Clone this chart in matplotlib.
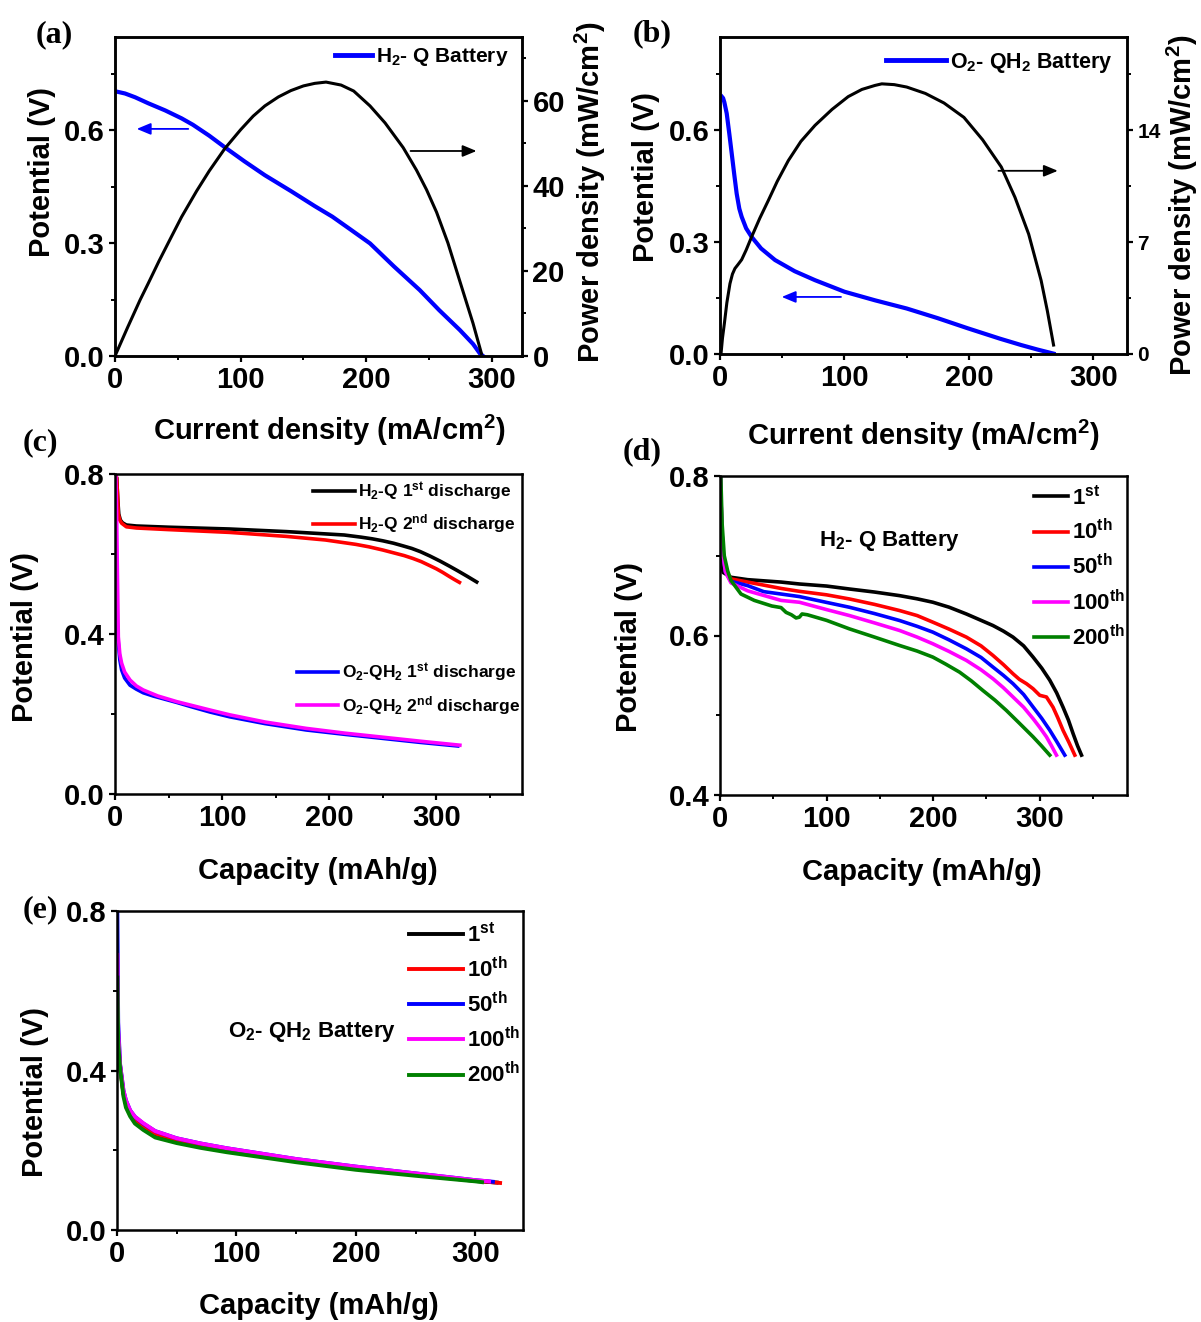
import matplotlib
matplotlib.use("Agg")
import matplotlib.pyplot as plt
from matplotlib.ticker import MultipleLocator, FixedLocator, FormatStrFormatter
from matplotlib.lines import Line2D

plt.rcParams['font.family'] = ['Liberation Sans Narrow', 'Liberation Sans', 'DejaVu Sans']
plt.rcParams['font.weight'] = 'bold'
plt.rcParams['mathtext.default'] = 'regular'
plt.rcParams['axes.linewidth'] = 1.8

# ---------------- data ----------------
# (a) H2-Q battery polarization
a_v_j = [0, 8, 16, 26.5, 40, 53, 62, 75, 87.5, 103, 119.3, 140, 159, 173, 187, 203, 222, 242.6, 258,
         274.5, 285, 290.4, 293]
a_v = [0.703, 0.697, 0.687, 0.671, 0.652, 0.631, 0.614, 0.585, 0.554, 0.517, 0.48, 0.438, 0.398, 0.37,
       0.337, 0.299, 0.238, 0.175, 0.122, 0.069, 0.032, 0.007, 0.0]
a_p_j = [0, 10, 20, 26.5, 35, 45, 53, 65, 75, 87.5, 100, 110, 119.3, 130, 140, 150, 159, 168, 180, 190,
         203, 215, 229.4, 240, 248, 256, 265, 274.5, 280, 285, 291.7]
a_p = [0, 6.7, 13.2, 17.1, 22.3, 28.1, 32.7, 38.8, 43.5, 48.8, 53.2, 56.4, 58.8, 60.9, 62.4, 63.5, 64.1,
       64.4, 63.7, 62.3, 58.8, 54.8, 49.0, 43.7, 39.1, 33.8, 26.6, 17.6, 12.4, 7.7, 0.6]

# (b) O2-QH2 battery polarization
b_v_j = [1.5, 2.5, 3.5, 5.4, 7.5, 9.4, 11.5, 13.4, 15.5, 17.4, 21, 25.4, 33, 44.2, 60, 76.3, 100, 124.5,
         150, 175, 199, 225, 242, 255, 268]
b_v = [0.69, 0.686, 0.675, 0.645, 0.59, 0.538, 0.48, 0.43, 0.39, 0.368, 0.337, 0.314, 0.283, 0.252, 0.222,
       0.198, 0.167, 0.144, 0.122, 0.096, 0.069, 0.041, 0.024, 0.012, 0.001]
b_p_j = [0.8, 2, 3.5, 5.5, 8, 10, 12, 14.5, 17.4, 21, 25.4, 32, 38.8, 46, 54.9, 65, 76.3, 90, 103, 114,
         124.5, 130, 140, 150, 165, 180, 196, 211, 226, 237, 248, 258, 263, 268]
b_p = [0, 1.0, 1.9, 3.2, 4.4, 5.0, 5.35, 5.6, 5.9, 6.5, 7.33, 8.5, 9.6, 10.8, 12.1, 13.3, 14.3, 15.3,
       16.1, 16.55, 16.8, 16.9, 16.85, 16.7, 16.3, 15.7, 14.8, 13.4, 11.7, 9.8, 7.5, 4.6, 2.7, 0.56]

# (c) first / second discharge
c_h1_x = [0.3, 1.6, 2.5, 3.5, 5, 7, 10.6, 20, 50, 107, 160, 214, 230, 240, 250, 260, 268, 277, 285, 294,
          303.7, 312, 320, 329, 337.7]
c_h1_v = [0.8, 0.79, 0.74, 0.70, 0.685, 0.678, 0.6725, 0.670, 0.667, 0.6625, 0.656, 0.6475, 0.642, 0.638,
          0.633, 0.627, 0.621, 0.614, 0.606, 0.595, 0.582, 0.570, 0.558, 0.544, 0.530]
c_h2_x = [0.3, 1.6, 2.5, 3.1, 4.5, 6.2, 10.6, 20, 50, 107, 160, 196.5, 225, 237, 250, 260, 270, 278, 285.9,
          293, 300, 306, 312, 317, 321.6]
c_h2_v = [0.8, 0.79, 0.74, 0.70, 0.685, 0.677, 0.668, 0.665, 0.661, 0.654, 0.644, 0.635, 0.624, 0.618,
          0.61, 0.603, 0.596, 0.589, 0.581, 0.572, 0.563, 0.554, 0.544, 0.536, 0.529]
c_o1_x = [0.5, 1.6, 3.1, 4.5, 6.2, 9, 14, 20, 26.4, 35.6, 57.5, 71.4, 88.6, 107, 140, 178.6, 215, 250,
          285, 320]
c_o1_v = [0.47, 0.45, 0.377, 0.335, 0.31, 0.29, 0.272, 0.262, 0.253, 0.245, 0.229, 0.218, 0.205, 0.193,
          0.176, 0.16, 0.149, 0.139, 0.129, 0.12]
c_o2_x = [0.8, 1.5, 2.2, 3.1, 4.5, 6.2, 9, 14, 20, 26.4, 40, 57.5, 88.6, 107, 140, 178.6, 215, 250, 285,
          322]
c_o2_v = [0.8, 0.70, 0.56, 0.393, 0.35, 0.327, 0.305, 0.285, 0.27, 0.26, 0.245, 0.231, 0.21, 0.198, 0.18,
          0.164, 0.152, 0.142, 0.132, 0.122]

# (d) H2-Q cycling
cycle_labels = ['1$^{st}$', '10$^{th}$', '50$^{th}$', '100$^{th}$', '200$^{th}$']
cycle_colors = ['black', '#ff0000', '#0000ff', '#ff00ff', '#008000']
d1_x = [0.3, 3, 10.3, 26, 57.3, 74.5, 100, 121.5, 145, 168.5, 185, 199.8, 215, 231.2, 245, 256.2, 266,
        275, 285, 293.8, 302, 309.5, 316, 322, 327, 331.4, 335.5, 339.3]
d1_v = [0.695, 0.679, 0.673, 0.670, 0.667, 0.6646, 0.662, 0.6583, 0.6545, 0.650, 0.646, 0.6417, 0.6355,
        0.627, 0.619, 0.6125, 0.6055, 0.598, 0.587, 0.573, 0.559, 0.544, 0.528, 0.510, 0.494, 0.477,
        0.462, 0.45]
d10_x = [0.5, 1.5, 3, 5, 10.3, 26, 57.3, 74.5, 100, 121.5, 145, 168.5, 185, 199.8, 215, 231.2, 245,
         256.2, 266, 275, 281, 287.6, 293.8, 300.1, 306.4, 312.6, 317, 322, 327.5, 333]
d10_v = [0.80, 0.74, 0.70, 0.682, 0.671, 0.667, 0.659, 0.6554, 0.651, 0.6458, 0.639, 0.6313, 0.625,
         0.6167, 0.608, 0.598, 0.587, 0.575, 0.5635, 0.552, 0.545, 0.5396, 0.5333, 0.525, 0.5229, 0.510,
         0.497, 0.481, 0.466, 0.45]
d50_x = [0.5, 1.5, 3, 5, 10.3, 26, 41, 57.3, 74.5, 100, 121.5, 145, 168.5, 185, 199.8, 215, 231.2, 245,
         256.2, 266, 275, 285, 293.8, 302, 309.5, 316.5, 323.6]
d50_v = [0.80, 0.74, 0.70, 0.680, 0.668, 0.6625, 0.655, 0.652, 0.6488, 0.6415, 0.6354, 0.6275, 0.6188,
         0.6115, 0.6042, 0.5945, 0.5833, 0.5725, 0.5604, 0.55, 0.5396, 0.526, 0.5104, 0.496, 0.4813,
         0.466, 0.45]
d100_x = [0.5, 1.5, 3, 5, 10.3, 26, 57.3, 74.5, 100, 121.5, 145, 168.5, 185, 199.8, 215, 231.2, 245,
          256.2, 266, 275, 285, 293.8, 300, 306.4, 311, 315.8]
d100_v = [0.80, 0.74, 0.70, 0.680, 0.666, 0.656, 0.644, 0.6417, 0.6325, 0.625, 0.6158, 0.6063, 0.598,
          0.5896, 0.58, 0.5688, 0.557, 0.5458, 0.5345, 0.5229, 0.51, 0.4958, 0.485, 0.4729, 0.462, 0.45]
d200_x = [0.8, 2, 4, 7.2, 10.3, 19.7, 32.2, 48.6, 57.3, 62, 67, 71.4, 74.5, 77, 82, 100, 121.5, 145,
          168.5, 185, 199.8, 212, 224.9, 236, 246.8, 258, 268.8, 281, 293.8, 301.5, 309.5]
d200_v = [0.798, 0.74, 0.70, 0.681, 0.669, 0.652, 0.644, 0.637, 0.635, 0.629, 0.626, 0.622, 0.623, 0.627,
          0.626, 0.619, 0.6083, 0.598, 0.5875, 0.5805, 0.5729, 0.564, 0.554, 0.543, 0.531, 0.519, 0.506,
          0.49, 0.473, 0.462, 0.45]

# (e) O2-QH2 cycling
e1_x = [0.3, 1, 2.6, 5.4, 7.5, 11, 15, 22, 32, 50, 70, 92, 120, 150, 200, 250, 300, 318]
e1_v = [0.50, 0.46, 0.41, 0.342, 0.316, 0.292, 0.274, 0.26, 0.241, 0.225, 0.212, 0.2, 0.187, 0.174, 0.155,
        0.139, 0.123, 0.119]
e10_x = [0.3, 1, 2.6, 5.4, 7.5, 11, 15, 22, 32, 50, 70, 92, 120, 150, 200, 250, 300, 320.8]
e10_v = [0.55, 0.47, 0.41, 0.343, 0.317, 0.293, 0.275, 0.261, 0.242, 0.226, 0.213, 0.201, 0.188, 0.175,
         0.156, 0.14, 0.124, 0.118]
e50_x = [0.3, 1, 2.6, 5.4, 7.5, 11, 15, 22, 32, 50, 70, 92, 120, 150, 200, 250, 300, 314.8]
e50_v = [0.80, 0.52, 0.415, 0.35, 0.325, 0.3, 0.284, 0.267, 0.248, 0.23, 0.217, 0.205, 0.192, 0.178, 0.159,
         0.142, 0.125, 0.121]
e100_x = [0.3, 1, 2.6, 5.4, 7.5, 11, 15, 22, 32, 50, 70, 92, 120, 150, 200, 250, 300, 311.6]
e100_v = [0.69, 0.50, 0.415, 0.35, 0.325, 0.3, 0.284, 0.268, 0.248, 0.23, 0.217, 0.205, 0.192, 0.178,
          0.159, 0.142, 0.125, 0.122]
e200_x = [0.3, 1, 2.6, 5.4, 7.5, 11, 15, 22, 32, 50, 70, 92, 120, 150, 200, 250, 300, 305.7]
e200_v = [0.633, 0.47, 0.405, 0.335, 0.307, 0.285, 0.267, 0.251, 0.232, 0.218, 0.206, 0.195, 0.183, 0.17,
          0.151, 0.136, 0.122, 0.12]

# ---------------- figure ----------------
W, H = 1201, 1322
fig = plt.figure(figsize=(W / 100, H / 100), dpi=100)


def rect(l, t, r, b):
    return [l / W, 1 - b / H, (r - l) / W, (b - t) / H]


TICK_FS = 21
LABEL_FS = 21


def style(ax, right=False):
    ax.tick_params(which='major', direction='out', length=4.5, width=1.6, labelsize=TICK_FS, pad=3)
    ax.tick_params(which='minor', direction='out', length=3, width=1.4)
    ax.tick_params(top=False, which='both')
    if not right:
        ax.tick_params(right=False, which='both')
    for lab in ax.get_xticklabels() + ax.get_yticklabels():
        lab.set_fontweight('bold')


def xlabel(ax, text, x, y):
    ax.set_xlabel(text, fontsize=LABEL_FS, fontweight='bold')
    ax.xaxis.set_label_coords(x, y)
    ax.xaxis.label.set_va('center')


def ylabel(ax, text, x, y):
    ax.set_ylabel(text, fontsize=LABEL_FS, fontweight='bold')
    ax.yaxis.set_label_coords(x, y)
    ax.yaxis.label.set_va('center')


arrow_kw = dict(arrowstyle='-|>,head_length=0.6,head_width=0.25', mutation_scale=14, lw=1.3,
                shrinkA=0, shrinkB=0)

# ---- (a)
ax = fig.add_axes(rect(115, 37, 522, 356))
ax2 = ax.twinx()
ax.plot(a_v_j, a_v, color='#0000ff', lw=3)
ax2.plot(a_p_j, a_p, color='black', lw=2.2)
ax.set_xlim(0, 324)
ax.set_ylim(0, 0.847)
ax2.set_ylim(0, 75)
ax.xaxis.set_major_locator(FixedLocator([0, 100, 200, 300]))
ax.xaxis.set_minor_locator(MultipleLocator(50))
ax.yaxis.set_major_locator(FixedLocator([0.0, 0.3, 0.6]))
ax.yaxis.set_minor_locator(MultipleLocator(0.15))
ax.yaxis.set_major_formatter(FormatStrFormatter('%.1f'))
ax2.yaxis.set_major_locator(FixedLocator([0, 20, 40, 60]))
ax2.yaxis.set_minor_locator(MultipleLocator(10))
style(ax)
style(ax2, right=True)
ax2.tick_params(left=False, which='both')
xlabel(ax, 'Current density (mA/cm$^2$)', 0.527, -0.232)
ylabel(ax, 'Potential (V)', -0.179, 0.577)
ylabel(ax2, 'Power density (mW/cm$^2$)', 1.167, 0.514)
ax.legend([Line2D([], [], color='#0000ff', lw=3.5)], ['H$_2$- Q Battery'], loc='center right',
          bbox_to_anchor=(0.968, 0.937), frameon=False, fontsize=15, handlelength=1.8,
          handletextpad=0.2, borderpad=0, borderaxespad=0)
ax.annotate('', xy=(17.3, 0.603), xytext=(58.3, 0.603), arrowprops=dict(color='#0000ff', **arrow_kw))
ax2.annotate('', xy=(287.8, 48.2), xytext=(235.3, 48.2), arrowprops=dict(color='black', **arrow_kw))

# ---- (b)
ax = fig.add_axes(rect(720, 37, 1127, 354))
ax2 = ax.twinx()
ax.plot(b_v_j, b_v, color='#0000ff', lw=3)
ax2.plot(b_p_j, b_p, color='black', lw=2.2)
ax.set_xlim(0, 327)
ax.set_ylim(0, 0.85)
ax2.set_ylim(0, 19.83)
ax.xaxis.set_major_locator(FixedLocator([0, 100, 200, 300]))
ax.xaxis.set_minor_locator(MultipleLocator(50))
ax.yaxis.set_major_locator(FixedLocator([0.0, 0.3, 0.6]))
ax.yaxis.set_minor_locator(MultipleLocator(0.15))
ax.yaxis.set_major_formatter(FormatStrFormatter('%.1f'))
ax2.yaxis.set_major_locator(FixedLocator([0, 7, 14]))
ax2.yaxis.set_minor_locator(MultipleLocator(3.5))
style(ax)
style(ax2, right=True)
ax2.tick_params(left=False, which='both')
ax2.tick_params(axis='y', labelsize=15)
xlabel(ax, 'Current density (mA/cm$^2$)', 0.50, -0.256)
ylabel(ax, 'Potential (V)', -0.182, 0.558)
ylabel(ax2, 'Power density (mW/cm$^2$)', 1.135, 0.47)
ax.legend([Line2D([], [], color='#0000ff', lw=3.5)], ['O$_2$- QH$_2$ Battery'], loc='center right',
          bbox_to_anchor=(0.965, 0.918), frameon=False, fontsize=15.5, handlelength=2.8,
          handletextpad=0.2, borderpad=0, borderaxespad=0)
ax.annotate('', xy=(49.6, 0.153), xytext=(97.2, 0.153), arrowprops=dict(color='#0000ff', **arrow_kw))
ax2.annotate('', xy=(271.4, 11.46), xytext=(223.7, 11.46), arrowprops=dict(color='black', **arrow_kw))

# ---- (c)
ax = fig.add_axes(rect(115, 474, 522, 794))
l1, = ax.plot(c_h1_x, c_h1_v, color='black', lw=2.6)
l2, = ax.plot(c_h2_x, c_h2_v, color='#ff0000', lw=2.6)
l3, = ax.plot(c_o1_x, c_o1_v, color='#0000ff', lw=2.6)
l4, = ax.plot(c_o2_x, c_o2_v, color='#ff00ff', lw=2.6)
ax.set_xlim(0, 380)
ax.set_ylim(0, 0.8)
ax.xaxis.set_major_locator(FixedLocator([0, 100, 200, 300]))
ax.xaxis.set_minor_locator(MultipleLocator(50))
ax.yaxis.set_major_locator(FixedLocator([0.0, 0.4, 0.8]))
ax.yaxis.set_minor_locator(MultipleLocator(0.2))
ax.yaxis.set_major_formatter(FormatStrFormatter('%.1f'))
style(ax)
xlabel(ax, 'Capacity (mAh/g)', 0.499, -0.24)
ylabel(ax, 'Potential (V)', -0.221, 0.49)
leg1 = ax.legend([l1, l2], ['H$_2$-Q 1$^{st}$ discharge', 'H$_2$-Q 2$^{nd}$ discharge'],
                 loc='center right', bbox_to_anchor=(0.985, 0.894), frameon=False, fontsize=12.5,
                 handlelength=2.4, handletextpad=0.2, borderpad=0, borderaxespad=0, labelspacing=0.55)
ax.add_artist(leg1)
ax.legend([l3, l4], ['O$_2$-QH$_2$ 1$^{st}$ discharge', 'O$_2$-QH$_2$ 2$^{nd}$ discharge'],
          loc='center right', bbox_to_anchor=(0.995, 0.328), frameon=False, fontsize=12.5,
          handlelength=2.4, handletextpad=0.2, borderpad=0, borderaxespad=0, labelspacing=0.55)

# ---- (d)
ax = fig.add_axes(rect(720, 476, 1127, 795))
d_series = [(d1_x, d1_v), (d10_x, d10_v), (d50_x, d50_v), (d100_x, d100_v), (d200_x, d200_v)]
hs = []
for (xs, ys), c in zip(d_series, cycle_colors):
    h, = ax.plot(xs, ys, color=c, lw=2.6)
    hs.append(h)
ax.set_xlim(0, 382)
ax.set_ylim(0.4, 0.8)
ax.xaxis.set_major_locator(FixedLocator([0, 100, 200, 300]))
ax.xaxis.set_minor_locator(MultipleLocator(50))
ax.yaxis.set_major_locator(FixedLocator([0.4, 0.6, 0.8]))
ax.yaxis.set_minor_locator(MultipleLocator(0.1))
ax.yaxis.set_major_formatter(FormatStrFormatter('%.1f'))
style(ax)
xlabel(ax, 'Capacity (mAh/g)', 0.496, -0.241)
ylabel(ax, 'Potential (V)', -0.224, 0.464)
ax.legend(hs, cycle_labels, loc='center right', bbox_to_anchor=(0.995, 0.713), frameon=False,
          fontsize=16, handlelength=1.5, handletextpad=0.2, borderpad=0, borderaxespad=0,
          labelspacing=0.45)
ax.text(0.417, 0.796, 'H$_2$- Q Battery', transform=ax.transAxes, ha='center', va='center',
        fontsize=16, fontweight='bold')

# ---- (e)
ax = fig.add_axes(rect(117, 911, 523, 1230))
e_series = [(e1_x, e1_v), (e10_x, e10_v), (e50_x, e50_v), (e100_x, e100_v), (e200_x, e200_v)]
hs = []
for (xs, ys), c in zip(e_series, cycle_colors):
    h, = ax.plot(xs, ys, color=c, lw=2.8)
    hs.append(h)
ax.set_xlim(0, 340)
ax.set_ylim(0, 0.8)
ax.xaxis.set_major_locator(FixedLocator([0, 100, 200, 300]))
ax.xaxis.set_minor_locator(MultipleLocator(50))
ax.yaxis.set_major_locator(FixedLocator([0.0, 0.4, 0.8]))
ax.yaxis.set_minor_locator(MultipleLocator(0.2))
ax.yaxis.set_major_formatter(FormatStrFormatter('%.1f'))
style(ax)
xlabel(ax, 'Capacity (mAh/g)', 0.498, -0.238)
ylabel(ax, 'Potential (V)', -0.203, 0.434)
ax.legend(hs, cycle_labels, loc='center right', bbox_to_anchor=(0.993, 0.705), frameon=False,
          fontsize=16, handlelength=2.4, handletextpad=0.2, borderpad=0, borderaxespad=0,
          labelspacing=0.45)
ax.text(0.48, 0.621, 'O$_2$- QH$_2$ Battery', transform=ax.transAxes, ha='center', va='center',
        fontsize=16, fontweight='bold')

# ---- panel labels
for lab, (px, py) in {'(a)': (54, 35), '(b)': (652, 34), '(c)': (40, 443),
                      '(d)': (642, 452), '(e)': (40, 910)}.items():
    fig.text(px / W, 1 - py / H, lab, ha='center', va='center', fontsize=23, fontweight='bold',
             family=['Liberation Serif', 'DejaVu Serif'])

fig.savefig('out.png', dpi=100)
